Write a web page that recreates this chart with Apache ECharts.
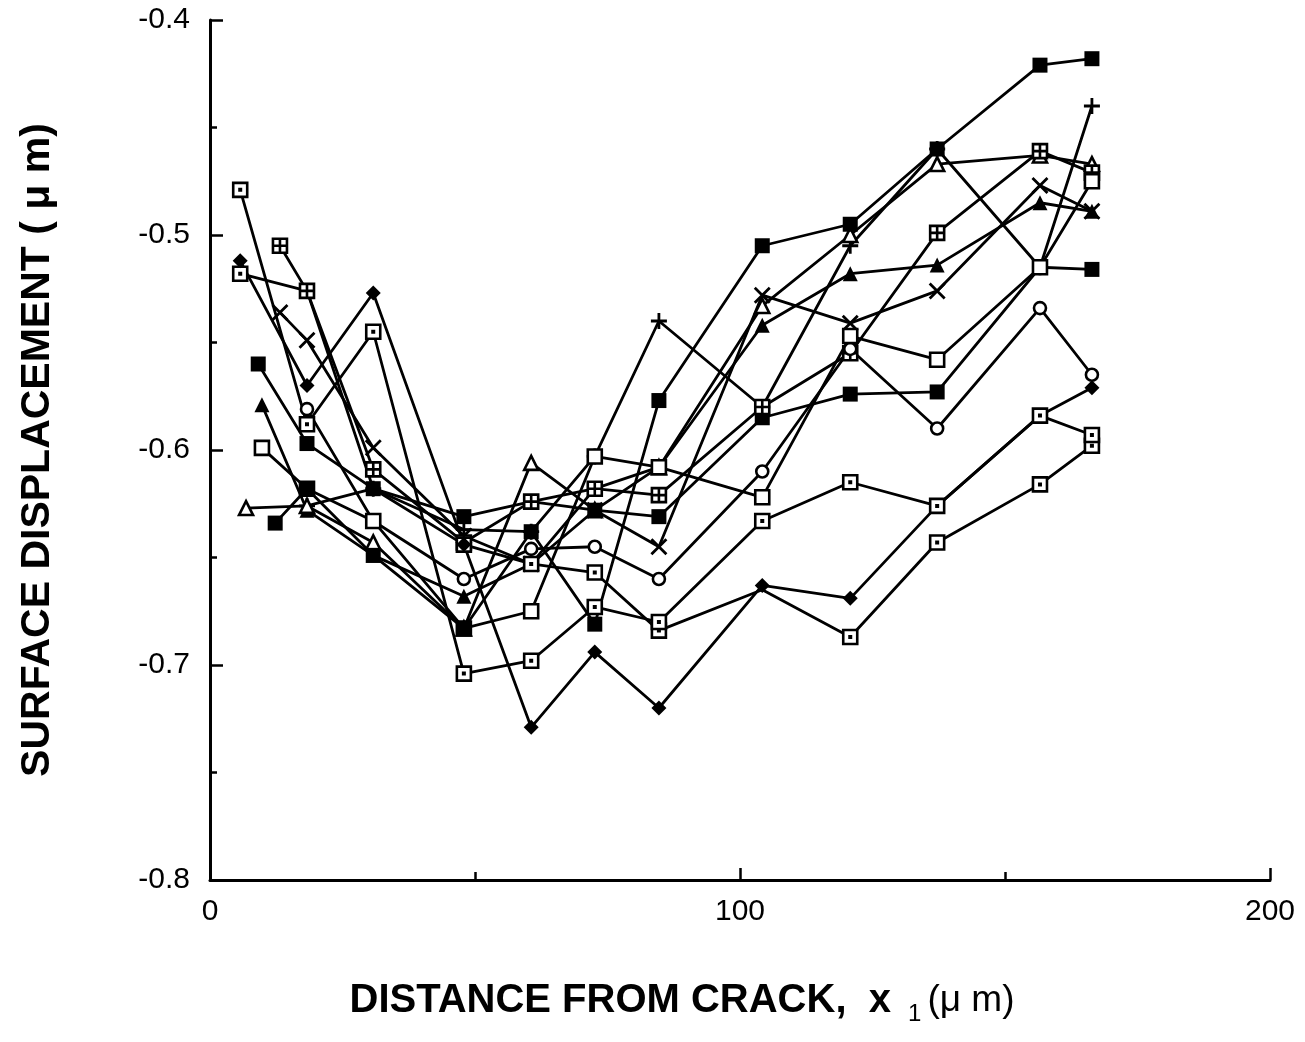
<!DOCTYPE html>
<html>
<head>
<meta charset="utf-8">
<script src="https://cdn.jsdelivr.net/npm/echarts@6/dist/echarts.min.js"></script>
<style>
  html, body { margin: 0; padding: 0; background: #fff; }
  #chart { width: 1305px; height: 1042px; }
</style>
</head>
<body>
<div id="chart"></div>
<script>
// Distance from crack tip (µm) at which each profile was sampled
const distance = [5.7, 6.8, 9.1, 9.8, 12.3, 13.2, 18.3, 30.8, 47.9, 60.6, 72.6, 84.7, 104.2, 120.8, 137.2, 156.6, 166.4];

// Surface displacement (µm) for each measured profile; null = not sampled
const n = null;
const filledSquareA = [n, n, n, n, -0.634, n, -0.618, -0.649, -0.683, -0.638, -0.681, -0.577, -0.505, -0.495, -0.460, -0.421, -0.418];
const plusSeries    = [n, n, n, n, n, n, -0.626, -0.618, -0.637, -0.638, -0.603, -0.540, -0.580, -0.505, -0.460, -0.515, -0.440];
const openTriangle  = [n, -0.627, n, n, n, n, -0.626, -0.643, -0.683, -0.606, -0.628, -0.608, -0.533, -0.500, -0.467, -0.463, -0.467];
const gridSquare    = [n, n, n, n, n, -0.505, -0.526, -0.609, -0.643, -0.624, -0.618, -0.621, -0.580, -0.555, -0.499, -0.461, -0.471];
const openSquare    = [n, n, n, -0.599, n, n, -0.618, -0.633, -0.683, -0.675, -0.603, -0.608, -0.622, -0.547, -0.558, -0.515, -0.475];
const filledTri     = [n, n, n, -0.579, n, n, -0.628, -0.649, -0.668, -0.653, -0.618, -0.608, -0.542, -0.518, -0.514, -0.485, -0.489];
const crossSeries   = [n, n, n, n, n, -0.536, -0.549, -0.599, -0.640, -0.653, -0.628, -0.645, -0.528, -0.541, -0.526, -0.477, -0.489];
const filledSquareB = [n, n, -0.560, n, n, n, -0.597, -0.618, -0.631, -0.624, -0.628, -0.631, -0.585, -0.574, -0.573, -0.515, -0.516];
const openCircle    = [n, n, n, n, n, n, -0.581, -0.633, -0.660, -0.646, -0.645, -0.660, -0.610, -0.553, -0.590, -0.534, -0.565];
const filledDiamond = [-0.512, n, n, n, n, n, -0.570, -0.527, -0.644, -0.729, -0.694, -0.720, -0.663, -0.669, -0.626, -0.584, -0.571];
const dotSquareA    = [-0.479, n, n, n, n, n, -0.588, -0.545, -0.704, -0.698, -0.673, -0.680, -0.633, -0.615, -0.626, -0.584, -0.593];
const dotSquareB    = [-0.518, n, n, n, n, n, -0.526, -0.618, -0.644, -0.653, -0.657, -0.684, -0.665, -0.687, -0.643, -0.616, -0.598];

// Axis tick values
const xTicks = [0, 100, 200];
const yTicks = [-0.8, -0.7, -0.6, -0.5, -0.4];

// Marker shapes
const PATH_DOT_SQUARE  = 'path://M0 0H20V20H0Z M9 9H11V11H9Z';
const PATH_GRID_SQUARE = 'path://M0 0H20V20H0Z M10 0V20 M0 10H20';
const PATH_PLUS        = 'path://M10 0V20 M0 10H20';
const PATH_CROSS       = 'path://M1 1L19 19 M19 1L1 19';

const INK = '#000';
const filled = { color: INK, borderColor: INK, borderWidth: 0 };
const hollow = { color: '#fff', borderColor: INK, borderWidth: 2.6 };
const stroked = { color: INK, borderColor: INK, borderWidth: 2.8 };

// Drawing order: later entries sit on top where markers coincide.
// hideAt lists sample indices whose marker lies underneath another one.
const profiles = [
  { values: filledTri,     symbol: 'triangle', size: 15, style: filled },
  { values: crossSeries,   symbol: PATH_CROSS, size: 15, style: stroked },
  { values: plusSeries,    symbol: PATH_PLUS, size: 16, style: stroked },
  { values: openTriangle,  symbol: 'triangle', size: 14, style: hollow },
  { values: filledSquareB, symbol: 'rect', size: 15, style: filled, hideAt: [15] },
  { values: gridSquare,    symbol: PATH_GRID_SQUARE, size: 14, style: hollow },
  { values: openCircle,    symbol: 'circle', size: 12, style: hollow },
  { values: dotSquareB,    symbol: PATH_DOT_SQUARE, size: 14, style: hollow, hideAt: [6, 7, 12] },
  { values: filledDiamond, symbol: 'diamond', size: 15, style: filled },
  { values: dotSquareA,    symbol: PATH_DOT_SQUARE, size: 14, style: hollow },
  { values: openSquare,    symbol: 'rect', size: 14, style: hollow },
  { values: filledSquareA, symbol: 'rect', size: 15, style: filled }
];

const chart = echarts.init(document.getElementById('chart'), null, { renderer: 'canvas' });

const FONT = 'Liberation Sans, Arial, Helvetica, sans-serif';
const axisText = { color: INK, fontFamily: FONT, fontSize: 30 };
const titleText = { color: INK, fontFamily: FONT, fontSize: 40, fontWeight: 'bold' };

chart.setOption({
  animation: false,
  backgroundColor: '#fff',
  grid: { left: 210, right: 35, top: 20, bottom: 162, containLabel: false },
  xAxis: {
    type: 'value',
    min: xTicks[0],
    max: xTicks[xTicks.length - 1],
    interval: 100,
    axisLine: { show: true, onZero: false, lineStyle: { color: INK, width: 3 } },
    axisTick: { show: true, inside: true, length: 12, lineStyle: { color: INK, width: 2.5 } },
    minorTick: { show: true, splitNumber: 2, length: 8, lineStyle: { color: INK, width: 2.5 } },
    splitLine: { show: false },
    axisLabel: Object.assign({ margin: 17, formatter: v => String(v) }, axisText),
    name: 'DISTANCE FROM CRACK,  x {sub|1}{unit|(μ m)}',
    nameLocation: 'middle',
    nameGap: 96,
    nameTextStyle: Object.assign({
      padding: [0, 116, 0, 0],
      rich: {
        sub: { fontFamily: FONT, fontSize: 24, fontWeight: 'normal', color: INK, verticalAlign: 'bottom', padding: [26, 6, 0, 6] },
        unit: { fontFamily: FONT, fontSize: 37, fontWeight: 'normal', color: INK }
      }
    }, titleText)
  },
  yAxis: {
    type: 'value',
    min: yTicks[0],
    max: yTicks[yTicks.length - 1],
    interval: 0.1,
    axisLine: { show: true, onZero: false, lineStyle: { color: INK, width: 3 } },
    axisTick: { show: true, inside: true, length: 13, lineStyle: { color: INK, width: 2.5 } },
    minorTick: { show: true, splitNumber: 2, length: 7, lineStyle: { color: INK, width: 2.5 } },
    splitLine: { show: false },
    axisLabel: Object.assign({ margin: 20, formatter: v => v.toFixed(1) }, axisText),
    name: 'SURFACE DISPLACEMENT ( μ m)',
    nameLocation: 'middle',
    nameRotate: 90,
    nameGap: 152,
    nameTextStyle: Object.assign({}, titleText, { fontSize: 41 })
  },
  series: profiles.map(p => ({
    type: 'line',
    data: distance.map((d, i) => {
      const point = { value: [d, p.values[i]] };
      if (p.hideAt && p.hideAt.includes(i)) point.symbol = 'none';
      return point;
    }),
    connectNulls: true,
    symbol: p.symbol,
    symbolSize: p.size,
    showSymbol: true,
    itemStyle: p.style,
    lineStyle: { color: INK, width: 2.8 },
    emphasis: { disabled: true },
    silent: true,
    z: 2
  }))
});
</script>
</body>
</html>
